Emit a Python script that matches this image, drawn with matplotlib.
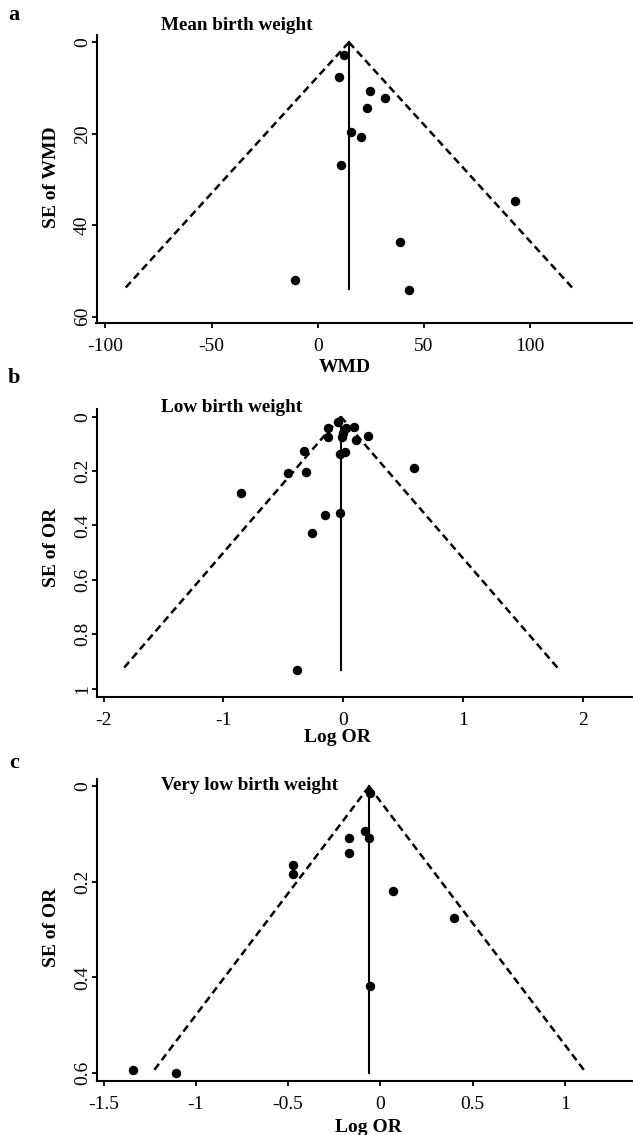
import numpy as np
import matplotlib
matplotlib.use("Agg")
import matplotlib.pyplot as plt

plt.rcParams["font.family"] = ["Liberation Serif", "DejaVu Serif"]

# a: mean birth weight
wmd = [12.4, 10.1, 24.7, 31.8, 23.2, 15.8, 20.4, 11.0, 92.9, 38.8, -10.5, 43.2]
se_wmd = [2.8, 7.5, 10.6, 12.1, 14.3, 19.6, 20.8, 26.9, 34.7, 43.7, 51.9, 54.1]
pooled_wmd = 14.7
semax_wmd = 54.0

# b: low birth weight
lor_low = [-0.046, -0.125, 0.021, 0.093, 0.001, -0.125, -0.013, 0.105, 0.210, -0.325,
           0.015, -0.027, -0.464, -0.311, -0.855, 0.594, -0.027, -0.152, -0.258, -0.389]
se_low = [0.018, 0.043, 0.043, 0.039, 0.061, 0.076, 0.074, 0.086, 0.071, 0.125,
          0.129, 0.138, 0.208, 0.202, 0.282, 0.190, 0.353, 0.362, 0.429, 0.930]
pooled_low = -0.02
semax_low = 0.93

# c: very low birth weight
lor_vlow = [-0.054, -0.085, -0.061, -0.172, -0.172, -0.472, -0.472, 0.066, 0.399,
            -0.054, -1.339, -1.105]
se_vlow = [0.014, 0.093, 0.107, 0.109, 0.139, 0.165, 0.183, 0.218, 0.275,
           0.417, 0.595, 0.601]
pooled_vlow = -0.061
semax_vlow = 0.60

W, H = 633, 1135
fig = plt.figure(figsize=(W / 100, H / 100), dpi=100)


def px(x, y):
    return x / W, 1 - y / H


def add_axes(top, bottom):
    x0, y0 = px(96.5, bottom)
    return fig.add_axes([x0, y0, 1 - x0, (bottom - top) / H])


def funnel(ax, x, se, pooled, semax):
    s = np.array([0, semax])
    ax.plot(pooled - 1.96 * s, s, color="black", ls=(0, (3.0, 1.8)), lw=1.8)
    ax.plot(pooled + 1.96 * s, s, color="black", ls=(0, (3.0, 1.8)), lw=1.8)
    ax.plot([pooled, pooled], [0, semax], color="black", lw=1.5)
    ax.plot(x, se, "o", color="black", ms=5.8)


def style(ax, xlim, ylim, xticks, xlabels, yticks, ylabels):
    ax.set_xlim(*xlim)
    ax.set_ylim(*ylim)
    ax.set_xticks(xticks)
    ax.set_xticklabels(xlabels)
    ax.set_yticks(yticks)
    ax.set_yticklabels(ylabels, rotation=90, va="center")
    for side in ["top", "right"]:
        ax.spines[side].set_visible(False)
    for side in ["left", "bottom"]:
        ax.spines[side].set_linewidth(1.5)
    ax.tick_params(direction="out", length=3.5, width=1.3, labelsize=14)
    ax.tick_params(axis="x", pad=7)
    ax.tick_params(axis="y", pad=0.5)


# panel a
ax = add_axes(35, 323)
funnel(ax, wmd, se_wmd, pooled_wmd, semax_wmd)
style(ax, (-104.2, 148.5), (61.4, -1.6), [-100, -50, 0, 50, 100],
      ["-100", "-50", "0", "50", "100"], [0, 20, 40, 60], ["0", "20", "40", "60"])

# panel b
ax = add_axes(409.3, 697)
funnel(ax, lor_low, se_low, pooled_low, semax_low)
style(ax, (-2.06, 2.42), (1.031, -0.027), [-2, -1, 0, 1, 2],
      ["-2", "-1", "0", "1", "2"], [0, 0.2, 0.4, 0.6, 0.8, 1],
      ["0", "0.2", "0.4", "0.6", "0.8", "1"])

# panel c
ax = add_axes(779.3, 1081)
funnel(ax, lor_vlow, se_vlow, pooled_vlow, semax_vlow)
style(ax, (-1.538, 1.369), (0.617, -0.015), [-1.5, -1, -0.5, 0, 0.5, 1],
      ["-1.5", "-1", "-0.5", "0", "0.5", "1"], [0, 0.2, 0.4, 0.6],
      ["0", "0.2", "0.4", "0.6"])

# texts
for letter, (x, y) in zip("abc", [(14, 15), (14, 378), (14, 763)]):
    fig.text(*px(x, y), letter, fontsize=16, fontweight="bold", ha="center", va="center")

titles = ["Mean birth weight", "Low birth weight", "Very low birth weight"]
for t, y in zip(titles, [25, 407, 785]):
    fig.text(*px(161, y), t, fontsize=13.8, fontweight="bold", ha="left", va="center")

for t, (x, y) in zip(["WMD", "Log OR", "Log OR"], [(345, 367), (337, 737), (368, 1127)]):
    fig.text(*px(x, y), t, fontsize=14, fontweight="bold", ha="center", va="center")

for t, y in zip(["SE of WMD", "SE of OR", "SE of OR"], [177, 547, 927]):
    fig.text(*px(52, y), t, fontsize=14, fontweight="bold", ha="center", va="center",
             rotation=90)

fig.savefig("out.png", dpi=100)
